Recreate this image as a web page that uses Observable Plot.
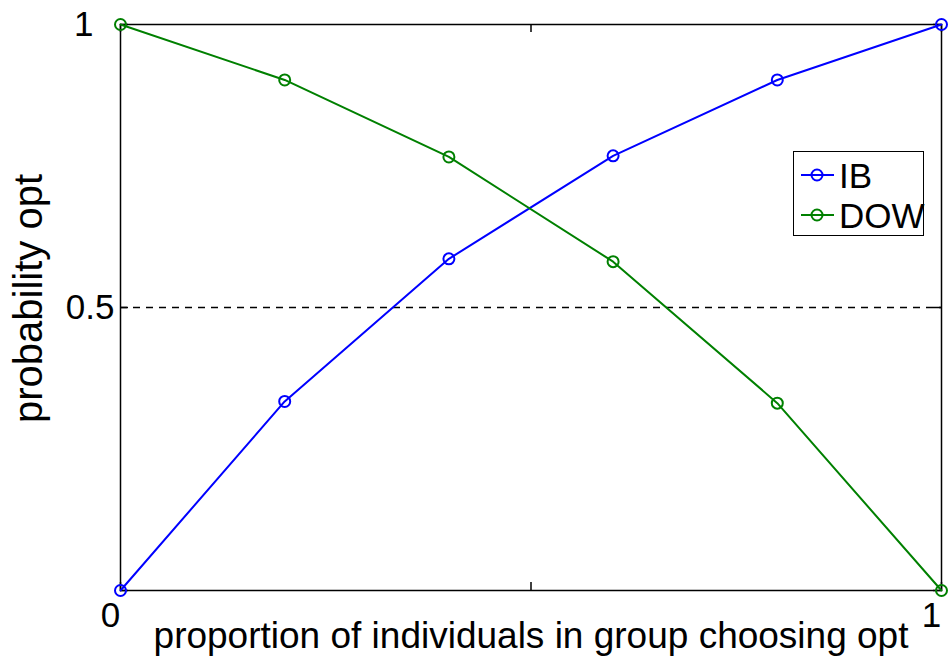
<!DOCTYPE html>
<html>
<head>
<meta charset="utf-8">
<script src="https://cdn.jsdelivr.net/npm/d3@7"></script>
<script src="https://cdn.jsdelivr.net/npm/@observablehq/plot@0.6"></script>
<style>
  html, body { margin: 0; padding: 0; background: #fff; }
  #wrap { position: relative; width: 951px; height: 661px; font-family: "Liberation Sans", Arial, sans-serif; }
  #legend { position: absolute; left: 793px; top: 151px; width: 131px; height: 85px; border: 1.5px solid #000; background: #fff; box-sizing: border-box; }
  .row { position: absolute; left: 0; height: 40px; display: flex; align-items: center; }
  .row span { font-size: 35px; line-height: 35px; margin-left: 3px; color: #000; }
</style>
</head>
<body>
<div id="wrap"></div>
<script>
const xs = [0, 0.2, 0.4, 0.6, 0.8, 1.0];
const ibValues = [0, 0.334, 0.586, 0.768, 0.902, 1.0];
const dowValues = [1.0, 0.902, 0.766, 0.581, 0.331, 0];
const seriesNames = ["IB", "DOW"];
const seriesColors = ["#0000ff", "#008000"];
const xTickMarks = [0, 0.5, 1];
const yTickMarks = [0, 0.5, 1];
const xTickLabels = [0, 1];
const xLabel = "proportion of individuals in group choosing opt";
const yLabel = "probability opt";
const refLevel = [0.5];

const data = [
  ...xs.map((x, i) => ({x, y: ibValues[i], series: "IB"})),
  ...xs.map((x, i) => ({x, y: dowValues[i], series: "DOW"}))
];

const font = "Liberation Sans, Arial, sans-serif";

const chart = Plot.plot({
  width: 951,
  height: 661,
  marginLeft: 120,
  marginRight: 10,
  marginTop: 24,
  marginBottom: 71,
  style: {fontFamily: font, fontSize: "34px", background: "#fff", color: "#000"},
  x: {domain: [0, 1]},
  y: {domain: [0, 1]},
  color: {domain: seriesNames, range: seriesColors},
  marks: [
    Plot.ruleY(refLevel, {stroke: "#000", strokeWidth: 1.5, strokeDasharray: "7,6"}),
    // inward ticks
    Plot.tickX(xTickMarks, {x: d => d, stroke: "#000", strokeWidth: 1.5, insetTop: 566 - 8}),
    Plot.tickX(xTickMarks, {x: d => d, stroke: "#000", strokeWidth: 1.5, insetBottom: 566 - 8}),
    Plot.tickY(yTickMarks, {y: d => d, stroke: "#000", strokeWidth: 1.5, insetLeft: 821 - 8}),
    Plot.tickY(yTickMarks, {y: d => d, stroke: "#000", strokeWidth: 1.5, insetRight: 821 - 8}),
    Plot.frame({stroke: "#000", strokeWidth: 1.5}),
    Plot.axisX(xTickLabels, {tickSize: 0, tickPadding: 12, tickFormat: d => String(d), dx: -10, fontSize: 35, label: null, fontFamily: font}),
    Plot.axisY([1], {tickSize: 0, tickPadding: 27, tickFormat: d => String(d), fontSize: 35, label: null, fontFamily: font}),
    Plot.axisY([0.5], {tickSize: 0, tickPadding: 6, tickFormat: d => String(d), fontSize: 35, label: null, fontFamily: font}),
    Plot.text([xLabel], {text: d => d, frameAnchor: "bottom", textAnchor: "middle", lineAnchor: "middle", dy: 46, fontSize: 37, fontFamily: font, fill: "#000"}),
    Plot.text([yLabel], {text: d => d, frameAnchor: "left", textAnchor: "middle", lineAnchor: "middle", rotate: -90, dx: -91, dy: -9, fontSize: 40, fontFamily: font, fill: "#000"}),
    Plot.line(data, {x: "x", y: "y", stroke: "series", strokeWidth: 2}),
    Plot.dot(data, {x: "x", y: "y", stroke: "series", fill: "none", r: 5.5, strokeWidth: 2})
  ]
});

const wrap = document.getElementById("wrap");
wrap.appendChild(chart);

// Legend overlay
const legend = document.createElement("div");
legend.id = "legend";
seriesNames.forEach((name, i) => {
  const row = document.createElement("div");
  row.className = "row";
  row.style.top = (i === 0 ? 3 : 43) + "px";
  row.innerHTML = `<svg width="42" height="20"><line x1="7" y1="10" x2="40" y2="10" stroke="${seriesColors[i]}" stroke-width="2"/><circle cx="23" cy="10" r="5.5" fill="none" stroke="${seriesColors[i]}" stroke-width="2"/></svg><span>${name}</span>`;
  legend.appendChild(row);
});
wrap.appendChild(legend);
</script>
</body>
</html>
